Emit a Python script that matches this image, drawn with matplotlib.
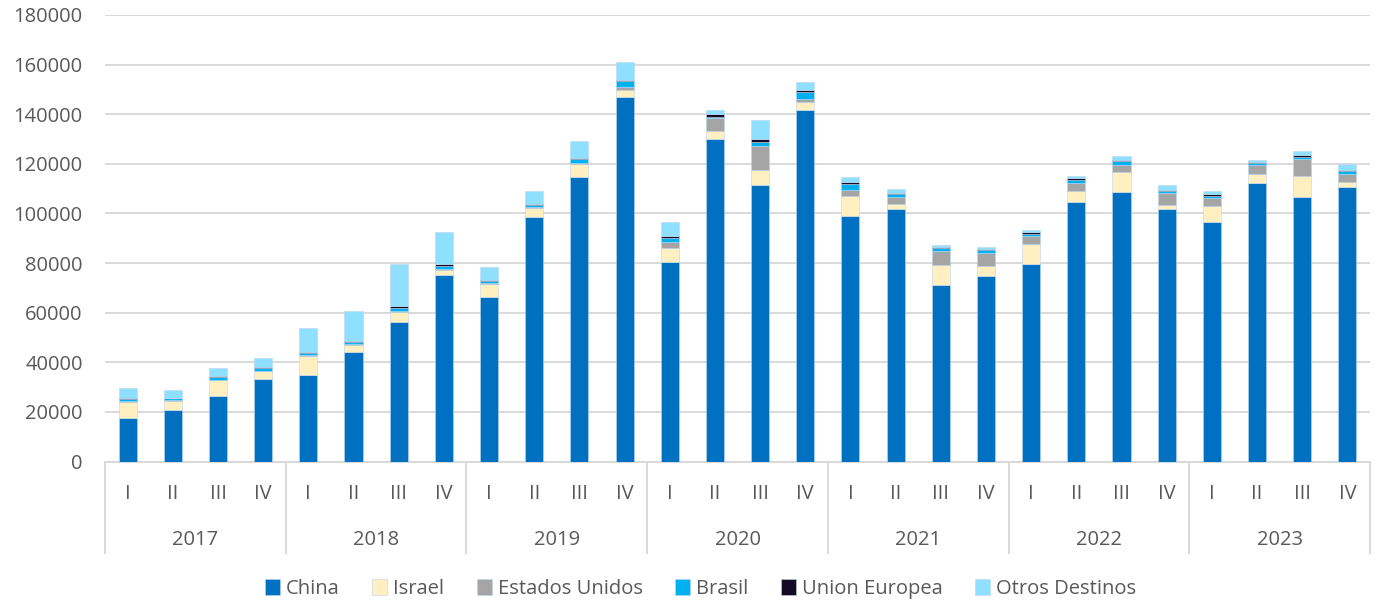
import matplotlib
matplotlib.use("Agg")
import matplotlib.pyplot as plt
import numpy as np

years = ["2017", "2018", "2019", "2020", "2021", "2022", "2023"]
quarters = ["I", "II", "III", "IV"]

china = [17500, 20900, 26600, 33100, 35000, 44100, 56200, 75200,
         66200, 98400, 114500, 147100, 80300, 130200, 111400, 141600,
         98900, 101600, 71200, 74900, 79700, 104800, 108600, 101600,
         96600, 112200, 106700, 110600]
israel = [6500, 3500, 6200, 3200, 7600, 2700, 4200, 2200,
          5200, 3700, 5600, 2700, 5900, 3100, 6200, 3400,
          8100, 2400, 8200, 4100, 7800, 4300, 8300, 1900,
          6600, 3800, 8400, 2200]
eeuu = [200, 200, 200, 300, 300, 600, 300, 200,
        400, 400, 400, 1300, 2100, 5100, 9500, 1300,
        2300, 2500, 5300, 4900, 3600, 3100, 2700, 4600,
        3000, 3400, 6700, 3300]
brasil = [1000, 900, 1000, 1100, 1000, 700, 1100, 1400,
          1100, 900, 1400, 2100, 1800, 500, 1800, 2800,
          2500, 1200, 1200, 1200, 800, 1100, 1400, 900,
          900, 800, 1000, 1000]
ue = [300, 200, 600, 500, 300, 300, 700, 600,
      400, 500, 500, 400, 900, 1200, 1200, 800,
      700, 400, 500, 500, 600, 1100, 600, 500,
      700, 500, 700, 600]
otros = [4100, 3300, 3000, 3700, 9800, 12400, 17000, 13100,
         5200, 5200, 6900, 7300, 5500, 1800, 7600, 3100,
         2000, 1600, 1000, 800, 900, 700, 1400, 1800,
         1300, 700, 1500, 2100]

series = [("China", china, "#0070C0"),
          ("Israel", israel, "#FFEFC1"),
          ("Estados Unidos", eeuu, "#A5A5A5"),
          ("Brasil", brasil, "#00B0F0"),
          ("Union Europea", ue, "#140A24"),
          ("Otros Destinos", otros, "#8FE0FF")]

plt.rcParams['font.family'] = ['Open Sans', 'DejaVu Sans']
txt = "#595959"
fs = 14.5

fig = plt.figure(figsize=(13.79, 6.05), dpi=100)
ax = fig.add_axes([105/1379, 1 - 461.5/605, 1265/1379, 446.5/605])

n = len(china)
x = np.arange(n)
bottom = np.zeros(n)
for name, vals, col in series:
    v = np.array(vals, dtype=float)
    ax.bar(x, v, width=0.4, bottom=bottom, color=col, label=name,
           edgecolor="#BDD7EE", linewidth=0.4, zorder=3)
    bottom += v

ax.set_xlim(-0.5, n - 0.5)
ax.set_ylim(0, 180000)
ax.set_yticks(np.arange(0, 180001, 20000))
ax.set_yticklabels([str(v) for v in range(0, 180001, 20000)], fontsize=fs, color=txt)
ax.tick_params(axis='y', length=0, pad=16)
ax.grid(axis='y', color="#D9D9D9", linewidth=1.4, zorder=0)
for s in ["top", "right", "left"]:
    ax.spines[s].set_visible(False)
ax.spines["bottom"].set_color("#D9D9D9")
ax.spines["bottom"].set_linewidth(1.4)
ax.set_xticks([])

trans = ax.get_xaxis_transform()
for i in range(n):
    ax.text(i, -0.072, quarters[i % 4], transform=trans, ha='center', va='center',
            fontsize=fs, color=txt)
for j, yr in enumerate(years):
    ax.text(4 * j + 1.5, -0.175, yr, transform=trans, ha='center', va='center',
            fontsize=fs, color=txt)
for j in range(len(years) + 1):
    ax.plot([4 * j - 0.5, 4 * j - 0.5], [0, -0.206], transform=trans, color="#D9D9D9",
            linewidth=1.4, clip_on=False)

handles, labels = ax.get_legend_handles_labels()
leg = fig.legend(handles, labels, loc='center', bbox_to_anchor=(0.508, 1 - 589/605),
                 ncol=6, frameon=False, fontsize=fs, handlelength=0.75, handleheight=0.85,
                 handletextpad=0.3, columnspacing=1.6)
for t in leg.get_texts():
    t.set_color(txt)

fig.savefig("out.png", dpi=100)
